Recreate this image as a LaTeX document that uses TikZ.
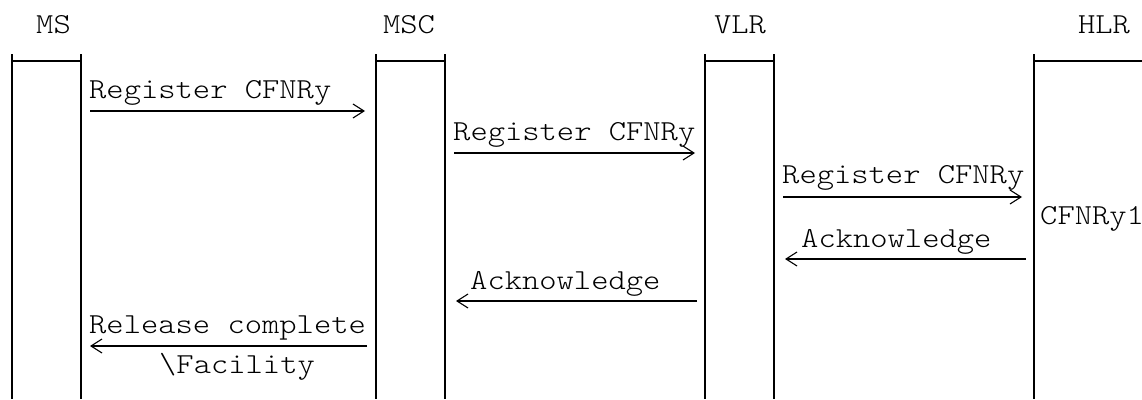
\documentclass[tikz,border=0pt]{standalone}
\usepackage{fontspec}
\setmonofont{Latin Modern Mono Light}[FakeStretch=1.136]
\usetikzlibrary{arrows.meta}
\tikzset{
  lbl/.style={font=\ttfamily\fontsize{29}{30}\selectfont, inner sep=0pt, anchor=base west},
  head/.style={font=\ttfamily\fontsize{29}{30}\selectfont, inner sep=0pt, anchor=base},
  life/.style={line width=2.4pt, black},
  bar/.style={line width=1.5pt, black},
  msg/.style={line width=1.6pt, black, -{Straight Barb[length=11pt,width=14pt,line width=1.1pt]}},
}
\begin{document}
\begin{tikzpicture}[x=1pt,y=-1pt]
\useasboundingbox (0,0) rectangle (1142,399);
% headers
\node[head] (hMS)  at (53.5,33) {MS};
\node[head] (hMSC) at (409,33) {MSC};
\node[head] (hVLR) at (740,33) {VLR};
\node[head] (hHLR) at (1104,33) {HLR};
% lifeline coordinates
\foreach \n/\x in {msL/12, msR/81, mscL/376, mscR/445, vlrL/705, vlrR/774, hlrL/1034}{
  \coordinate (\n t) at (\x,54);
  \coordinate (\n b) at (\x,399);
  \coordinate (\n h) at (\x,61);
}
\coordinate (hlrEdge) at (1142,61);
\foreach \n in {msL, msR, mscL, mscR, vlrL, vlrR, hlrL}{
  \draw[life] (\n t) -- (\n b);
}
\draw[bar] (msLh) -- (msRh);
\draw[bar] (mscLh) -- (mscRh);
\draw[bar] (vlrLh) -- (vlrRh);
\draw[bar] (hlrLh) -- (hlrEdge);
% message endpoints
\coordinate (a1s) at (90,111);  \coordinate (a1e) at (365,111);
\coordinate (a2s) at (454,153); \coordinate (a2e) at (695,153);
\coordinate (a3s) at (783,197); \coordinate (a3e) at (1022,197);
\coordinate (b1s) at (1026,259); \coordinate (b1e) at (785,259);
\coordinate (b2s) at (697,301); \coordinate (b2e) at (456,301);
\coordinate (b3s) at (367,346); \coordinate (b3e) at (90,346);
\draw[msg] (a1s) -- (a1e);
\draw[msg] (a2s) -- (a2e);
\draw[msg] (a3s) -- (a3e);
\draw[msg] (b1s) -- (b1e);
\draw[msg] (b2s) -- (b2e);
\draw[msg] (b3s) -- (b3e);
% labels
\node[lbl] (t1) at (89,98) {Register CFNRy};
\node[lbl] (t2) at (453,140) {Register CFNRy};
\node[lbl] (t3) at (782,183) {Register CFNRy};
\node[lbl] (t4) at (801,247) {Acknowledge};
\node[lbl] (t5) at (470,289) {Acknowledge};
\node[lbl] (t6) at (89,333) {Release complete};
\node[lbl] (t7) at (159,373) {\textbackslash Facility};
\node[lbl] (t8) at (1040,224) {CFNRy1};
\end{tikzpicture}
\end{document}
